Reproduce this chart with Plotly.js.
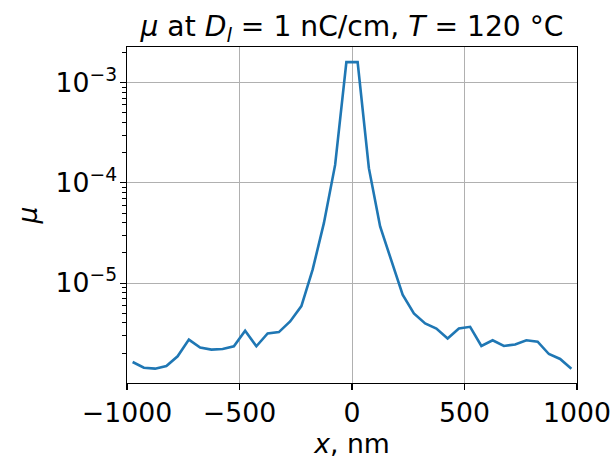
<!DOCTYPE html>
<html>
<head>
<meta charset="utf-8">
<script src="https://cdn.plot.ly/plotly-3.0.1.min.js"></script>
<style>html,body{margin:0;padding:0;background:#fff;}#chart{width:614px;height:459px;}</style>
</head>
<body>
<div id="chart"></div>
<script>
var xNm = [-975,-925,-875,-825,-775,-725,-675,-625,-575,-525,-475,-425,-375,-325,-275,-225,-175,-125,-75,-25,
           25,75,125,175,225,275,325,375,425,475,525,575,625,675,725,775,825,875,925,975];
var mu = [1.63e-6,1.43e-6,1.40e-6,1.49e-6,1.86e-6,2.73e-6,2.27e-6,2.17e-6,2.20e-6,2.34e-6,
          3.34e-6,2.34e-6,3.14e-6,3.24e-6,4.14e-6,5.89e-6,1.36e-5,3.96e-5,1.51e-4,1.60e-3,
          1.60e-3,1.40e-4,3.67e-5,1.63e-5,7.64e-6,4.97e-6,3.95e-6,3.52e-6,2.80e-6,3.52e-6,
          3.66e-6,2.36e-6,2.69e-6,2.36e-6,2.44e-6,2.69e-6,2.60e-6,1.96e-6,1.75e-6,1.40e-6];
var xTicks = [-1000,-500,0,500,1000];
var xTickText = ['\u22121000','\u2212500','0','500','1000'];
var yTicks = [1e-5,1e-4,1e-3];
var yTickAll = [2e-6,3e-6,4e-6,5e-6,6e-6,7e-6,8e-6,9e-6,1e-5,
                2e-5,3e-5,4e-5,5e-5,6e-5,7e-5,8e-5,9e-5,1e-4,
                2e-4,3e-4,4e-4,5e-4,6e-4,7e-4,8e-4,9e-4,1e-3,2e-3];
var yTickAllText = ['','','','','','','','','10<sup>\u22125</sup>',
                    '','','','','','','','','10<sup>\u22124</sup>',
                    '','','','','','','','','10<sup>\u22123</sup>',''];

var yRange = [-5.997,-2.645];
var font = {family:'DejaVu Sans', size:26.7, color:'#000'};
var trace = {x:xNm, y:mu, type:'scatter', mode:'lines',
  line:{color:'#1f77b4', width:2.6}, hoverinfo:'skip'};
var ghost = {x:xNm, y:mu, yaxis:'y2', type:'scatter', mode:'lines',
  line:{color:'rgba(0,0,0,0)', width:1}, hoverinfo:'skip', showlegend:false};
var layout = {
  width:614, height:459,
  margin:{l:127, r:37, t:47, b:75.7},
  paper_bgcolor:'#fff', plot_bgcolor:'#fff',
  font:font,
  showlegend:false,
  title:{text:'<i>μ</i> at <i>D<sub>l</sub></i> = 1 nC/cm, <i>T</i> = 120 °C',
    font:{family:'DejaVu Sans', size:28.2, color:'#000'},
    x:0.5, xref:'paper', xanchor:'center', y:1, yref:'paper', yanchor:'bottom', pad:{b:11}},
  xaxis:{range:[-1000,1000], tickmode:'array', tickvals:xTicks, ticktext:xTickText,
    ticks:'outside', ticklen:6, tickwidth:1.1, tickcolor:'#000',
    showline:true, linecolor:'#000', linewidth:1.1, mirror:true,
    showgrid:true, gridcolor:'#b0b0b0', gridwidth:1, zeroline:false,
    tickfont:font,
    title:{text:'<i>x</i>, nm', font:font, standoff:4}},
  yaxis:{type:'log', range:yRange, tickmode:'array', tickvals:yTickAll, ticktext:yTickAllText,
    ticks:'outside', ticklen:3.5, tickwidth:1, tickcolor:'#000',
    showline:true, linecolor:'#000', linewidth:1.1, mirror:true,
    showgrid:false, zeroline:false,
    tickfont:font,
    title:{text:'<i>μ</i>', font:font, standoff:10}},
  yaxis2:{type:'log', range:yRange, overlaying:'y', side:'left', anchor:'x',
    tickmode:'array', tickvals:yTicks, showticklabels:false,
    ticks:'outside', ticklen:6, tickwidth:1.1, tickcolor:'#000',
    showline:false, showgrid:true, gridcolor:'#b0b0b0', gridwidth:1, zeroline:false}
};
Plotly.newPlot('chart',[trace, ghost],layout,{staticPlot:true, displayModeBar:false});
</script>
</body>
</html>
